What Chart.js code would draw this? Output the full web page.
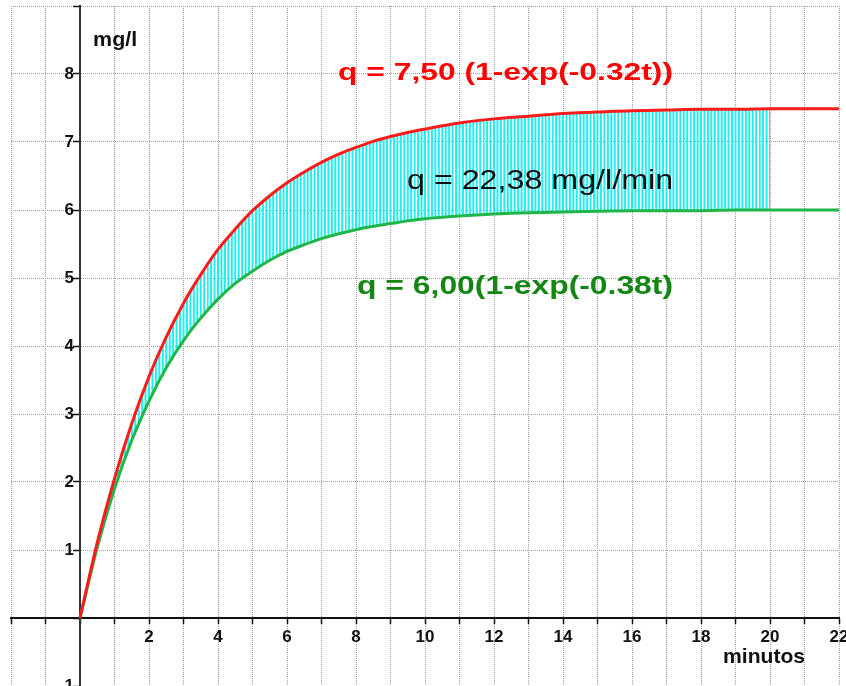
<!DOCTYPE html>
<html>
<head>
<meta charset="utf-8">
<script src="https://cdn.jsdelivr.net/npm/chart.js@4/dist/chart.umd.min.js"></script>
<style>
    html, body { margin: 0; padding: 0; background: #fff; }
    #wrap { width: 846px; height: 686px; position: relative; }
</style>
</head>
<body>
<div id="wrap"><canvas id="chart"></canvas></div>
<script>
// tiempos (minutos) y concentraciones
const minutes = [0, 0.5, 1, 1.5, 2, 2.5, 3, 3.5, 4, 4.5, 5, 5.5, 6, 6.5, 7, 7.5, 8, 8.5, 9, 9.5, 10,
    11, 12, 13, 14, 15, 16, 17, 18, 19, 20, 21, 22];
const redConc = [0, 1.11, 2.05, 2.86, 3.55, 4.13, 4.63, 5.05, 5.42, 5.72, 5.99, 6.21, 6.40, 6.56, 6.70, 6.82, 6.92, 7.01, 7.08, 7.14, 7.19,
    7.28, 7.34, 7.38, 7.42, 7.44, 7.46, 7.47, 7.48, 7.48, 7.49, 7.49, 7.49];
const greenConc = [0, 1.04, 1.90, 2.61, 3.19, 3.68, 4.08, 4.41, 4.69, 4.92, 5.10, 5.26, 5.39, 5.49, 5.58, 5.65, 5.71, 5.76, 5.80, 5.84, 5.87,
    5.91, 5.94, 5.96, 5.97, 5.98, 5.99, 5.99, 5.99, 6.00, 6.00, 6.00, 6.00];
const bandEnd = 20; // el area rayada llega hasta 20 min

const xTickLabels = [2, 4, 6, 8, 10, 12, 14, 16, 18, 20, 22];
const yTickLabels = [-1, 1, 2, 3, 4, 5, 6, 7, 8];

const FONT = '"Liberation Sans", Arial, sans-serif';

const toPoints = (ys) => minutes.map((t, i) => ({ x: t, y: ys[i] }));
const bandPoints = (ys) => toPoints(ys).filter(p => p.x <= bandEnd);

// rayado vertical cian para el area entre curvas
function makeHatch() {
    const c = document.createElement('canvas');
    c.width = 69;
    c.height = 4;
    const g = c.getContext('2d');
    g.strokeStyle = '#22eeee';
    g.lineWidth = 2;
    for (let k = 0; k < 20; k++) {
        const px = (11 + 3.45 * k) % 69;
        g.beginPath();
        g.moveTo(px, 0);
        g.lineTo(px, 4);
        g.stroke();
    }
    return g.createPattern(c, 'repeat');
}

// textos sobre la grafica
const notes = [
    { text: 'q = 7,50 (1-exp(-0.32t))', font: 'bold 24px ' + FONT, color: '#ff0000', x: 17.19, y: 7.91, align: 'right', width: 335 },
    { text: 'q = 22,38 mg/l/min', font: '27px ' + FONT, color: '#111111', x: 17.19, y: 6.31, align: 'right', width: 266 },
    { text: 'q = 6,00(1-exp(-0.38t)', font: 'bold 25px ' + FONT, color: '#138613', x: 17.19, y: 4.76, align: 'right', width: 316 },
    { text: 'mg/l', font: 'bold 20px ' + FONT, color: '#111111', x: 0.38, y: 8.41, align: 'left', width: 44 },
    { text: 'minutos', font: 'bold 21px ' + FONT, color: '#111111', x: 18.64, y: -0.66, align: 'left', width: 82 }
];

const notesPlugin = {
    id: 'notes',
    afterDatasetsDraw(chart) {
        const ctx = chart.ctx;
        const xs = chart.scales.x;
        const ys = chart.scales.y;
        notes.forEach(n => {
            ctx.save();
            ctx.font = n.font;
            ctx.fillStyle = n.color;
            ctx.textBaseline = 'alphabetic';
            ctx.textAlign = n.align;
            const w = ctx.measureText(n.text).width;
            ctx.translate(xs.getPixelForValue(n.x), ys.getPixelForValue(n.y));
            ctx.scale(n.width / w, 1);
            ctx.fillText(n.text, 0, 0);
            ctx.restore();
        });
    }
};

const noPadding = (scale) => {
    scale.paddingTop = 0;
    scale.paddingBottom = 0;
    scale.paddingLeft = 0;
    scale.paddingRight = 0;
};

new Chart(document.getElementById('chart'), {
    type: 'line',
    data: {
        datasets: [
            {
                label: 'banda inferior',
                data: bandPoints(greenConc),
                borderColor: '#22eeee',
                borderWidth: 1.5,
                pointRadius: 0,
                fill: false,
                order: 3
            },
            {
                label: 'banda superior',
                data: bandPoints(redConc),
                borderColor: '#22eeee',
                borderWidth: 1,
                backgroundColor: makeHatch(),
                pointRadius: 0,
                fill: '-1',
                order: 2
            },
            {
                label: 'q = 6,00(1-exp(-0.38t))',
                data: toPoints(greenConc),
                borderColor: '#1fb548',
                borderWidth: 3,
                pointRadius: 0,
                fill: false,
                order: 1
            },
            {
                label: 'q = 7,50 (1-exp(-0.32t))',
                data: toPoints(redConc),
                borderColor: '#ff1a1a',
                borderWidth: 3,
                pointRadius: 0,
                fill: false,
                order: 0
            }
        ]
    },
    options: {
        responsive: true,
        maintainAspectRatio: false,
        animation: false,
        events: [],
        layout: { padding: { top: 6, left: 11, right: 7, bottom: 0 } },
        elements: { line: { cubicInterpolationMode: 'monotone' } },
        plugins: {
            legend: { display: false },
            tooltip: { enabled: false }
        },
        scales: {
            x: {
                type: 'linear',
                position: { y: 0 },
                min: -2,
                max: 22,
                afterFit: noPadding,
                border: { display: true, color: '#111', width: 2, dash: [1, 1] },
                grid: {
                    color: '#a0a0a0',
                    lineWidth: 1,
                    tickColor: '#111',
                    tickWidth: 1.5,
                    tickBorderDash: [],
                    tickLength: 5
                },
                ticks: {
                    stepSize: 1,
                    autoSkip: false,
                    maxRotation: 0,
                    padding: 4,
                    color: '#111',
                    font: { family: FONT, size: 17, weight: 'bold' },
                    callback: (value) => xTickLabels.includes(value) ? String(value) : ''
                }
            },
            y: {
                type: 'linear',
                position: { x: 0 },
                min: -1,
                max: 9,
                afterFit: noPadding,
                border: { display: true, color: '#333', width: 2, dash: [1, 1] },
                grid: {
                    color: '#a0a0a0',
                    lineWidth: 1,
                    tickColor: '#111',
                    tickWidth: 1.5,
                    tickBorderDash: [],
                    tickLength: 6
                },
                ticks: {
                    stepSize: 1,
                    autoSkip: false,
                    color: '#111',
                    font: { family: FONT, size: 17, weight: 'bold' },
                    // espacio final para separar la etiqueta del eje
                    callback: (value) => yTickLabels.includes(value) ? String(value) + ' \u200A' : ''
                }
            }
        }
    },
    plugins: [notesPlugin]
});
</script>
</body>
</html>
